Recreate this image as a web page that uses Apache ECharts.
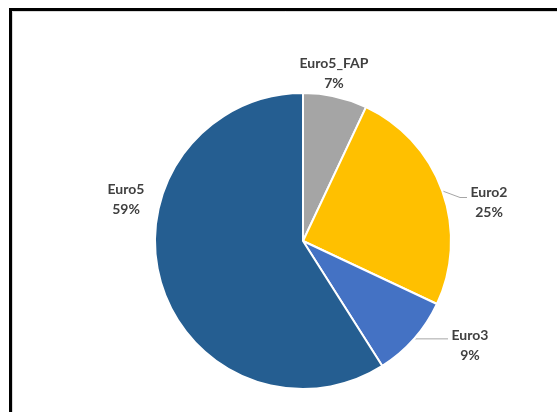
<!DOCTYPE html>
<html>
<head>
<meta charset="utf-8">
<script src="https://cdn.jsdelivr.net/npm/echarts@6/dist/echarts.min.js"></script>
<style>
  html, body { margin: 0; padding: 0; background: #ffffff; }
  #chart { width: 557px; height: 412px; }
</style>
</head>
<body>
<div id="chart"></div>
<script>
// Emission-class shares, clockwise from 12 o'clock
const categories = ['Euro5_FAP', 'Euro2', 'Euro3', 'Euro5'];
const shares = [7, 25, 9, 59];
const colors = ['#A5A5A5', '#FFC000', '#4472C4', '#255E91'];

// Label centres and leader-line options per slice
const labelCenters = [[334, 73], [489, 202], [470, 345], [126, 199]];
const showLeader = [false, true, true, false];

const chart = echarts.init(document.getElementById('chart'), null, { renderer: 'canvas' });

const data = categories.map((name, i) => ({
  name: name,
  value: shares[i],
  itemStyle: { color: colors[i] },
  labelLine: { show: showLeader[i] }
}));

chart.setOption({
  animation: false,
  backgroundColor: '#ffffff',
  graphic: [
    {
      type: 'polyline',
      shape: { points: [[10.5, 420], [10.5, 9.5], [570, 9.5]] },
      style: { stroke: '#000000', lineWidth: 3, fill: null },
      silent: true
    },
    {
      type: 'polyline',
      shape: { points: [[12.5, 420], [12.5, 11.5], [570, 11.5]] },
      style: { stroke: '#D9D9D9', lineWidth: 1, fill: null },
      silent: true
    }
  ],
  series: [{
    type: 'pie',
    center: [303, 241],
    radius: [0, 148],
    startAngle: 90,
    clockwise: true,
    avoidLabelOverlap: false,
    itemStyle: { borderColor: '#ffffff', borderWidth: 2 },
    label: {
      show: true,
      position: 'outside',
      formatter: '{b}\n{c}%',
      fontFamily: 'Lato',
      fontWeight: 'bold',
      fontSize: 14,
      lineHeight: 20,
      color: '#404040',
      align: 'center'
    },
    labelLine: {
      show: true,
      length: 10,
      length2: 10,
      lineStyle: { color: '#A6A6A6', width: 1 }
    },
    labelLayout: function (params) {
      const i = params.dataIndex;
      const c = labelCenters[i];
      const out = { x: c[0], y: c[1], align: 'center', verticalAlign: 'middle' };
      const start = params.labelLinePoints ? params.labelLinePoints[0] : null;
      if (start && i === 1) {
        out.labelLinePoints = [start, [460, 197.5], [467, 197.5]];
      } else if (start && i === 2) {
        out.labelLinePoints = [start, [432, start[1]], [448, start[1]]];
      }
      return out;
    },
    data: data
  }]
});
</script>
</body>
</html>
